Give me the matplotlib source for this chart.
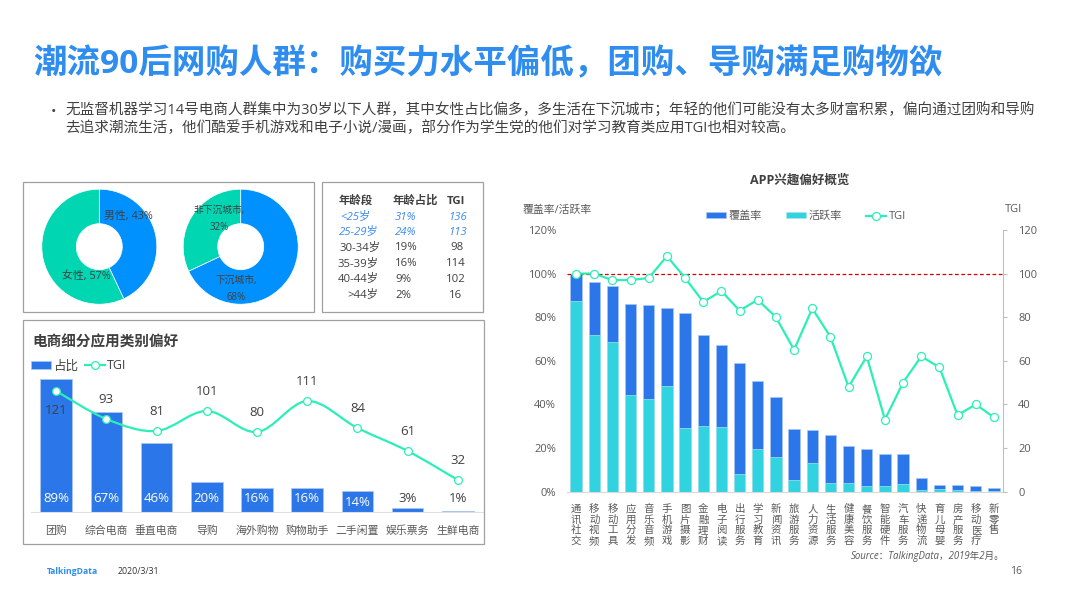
import matplotlib
matplotlib.use("Agg")
import matplotlib.pyplot as plt
from matplotlib.lines import Line2D
from matplotlib.patches import PathPatch, Rectangle
from matplotlib.path import Path

plt.rcParams['font.family'] = ['Open Sans', 'Noto Sans CJK SC', 'DejaVu Sans']

W, H = 1066, 599

# 右图 APP兴趣偏好
apps = ['通讯社交', '移动视频', '移动工具', '应用分发', '音乐音频', '手机游戏', '图片摄影', '金融理财',
        '电子阅读', '出行服务', '学习教育', '新闻资讯', '旅游服务', '人力资源', '生活服务', '健康美容',
        '餐饮服务', '智能硬件', '汽车服务', '快递物流', '育儿母婴', '房产服务', '移动医疗', '新零售']
coverage = [100, 96, 94.5, 86, 85.5, 84, 82, 72, 67, 59, 50.5, 43.5,
            28.5, 28, 26, 21, 19.5, 17, 17, 6, 3, 3, 2.5, 1.5]
active = [87.5, 72, 68.5, 44.5, 42.5, 48.5, 29, 30, 29.5, 8, 19.5, 16,
          5.5, 13, 4, 4, 2.5, 2.5, 3.5, 0.7, 1, 0.5, 0.3, 0.2]
app_tgi = [100, 100, 97, 97, 98, 108, 98, 87, 92, 83, 88, 80,
           65, 84, 71, 48, 62, 33, 50, 62, 57, 35, 40, 34]

# 左下 电商细分
shop_cats = ['团购', '综合电商', '垂直电商', '导购', '海外购物', '购物助手', '二手闲置', '娱乐票务', '生鲜电商']
shop_share = [89, 67, 46, 20, 16, 16, 14, 3, 1]
shop_tgi = [121, 93, 81, 101, 80, 111, 84, 61, 32]

# 饼图
gender_labels = ['男性, 43%', '女性, 57%']
gender_vals = [43, 57]
city_labels = ['下沉城市,\n68%', '非下沉城市,\n32%']
city_vals = [68, 32]

# 表格
table_head = ['年龄段', '年龄占比', 'TGI']
age_rows = ['<25岁', '25-29岁', '30-34岁', '35-39岁', '40-44岁', '>44岁']
age_share = ['31%', '24%', '19%', '16%', '9%', '2%']
age_tgi = ['136', '113', '98', '114', '102', '16']

BLUE = '#2B76E8'
CYAN = '#30D3DF'
GREEN = '#2CEFB7'
GREY = '#595959'
DARK = '#404040'


def fx(x):
    return x / W


def fy(y):
    return 1 - y / H


def px_axes(left, top, right, bottom):
    return fig.add_axes([fx(left), fy(bottom), (right - left) / W, (bottom - top) / H])


def ftext(x, y, s, **kw):
    kw.setdefault('va', 'center')
    kw.setdefault('color', DARK)
    fig.text(fx(x), fy(y), s, **kw)


def box(left, top, right, bottom):
    fig.add_artist(Rectangle((fx(left), fy(bottom)), (right - left) / W, (bottom - top) / H,
                             transform=fig.transFigure, fill=False, ec='#A0A0A0', lw=0.9))


def smooth_path(xs, ys):
    verts = [(xs[0], ys[0])]
    codes = [Path.MOVETO]
    n = len(xs)
    for i in range(n - 1):
        a = max(i - 1, 0)
        d = min(i + 2, n - 1)
        verts.append((xs[i] + (xs[i + 1] - xs[a]) / 6, ys[i] + (ys[i + 1] - ys[a]) / 6))
        verts.append((xs[i + 1] - (xs[d] - xs[i]) / 6, ys[i + 1] - (ys[d] - ys[i]) / 6))
        verts.append((xs[i + 1], ys[i + 1]))
        codes += [Path.CURVE4] * 3
    return Path(verts, codes)


fig = plt.figure(figsize=(W / 100, H / 100), dpi=100, facecolor='white')

# 标题和正文
ftext(33.5, 65, '潮流90后网购人群：购买力水平偏低，团购、导购满足购物欲',
      fontsize=24.1, fontweight='bold', color='#2E8DEE')
ftext(51, 112, '•', fontsize=10.5)
ftext(65, 111, '无监督机器学习14号电商人群集中为30岁以下人群，其中女性占比偏多，多生活在下沉城市；年轻的他们可能没有太多财富积累，偏向通过团购和导购',
      fontsize=10.5)
ftext(65, 129, '去追求潮流生活，他们酷爱手机游戏和电子小说/漫画，部分作为学生党的他们对学习教育类应用TGI也相对较高。',
      fontsize=10.5)

# 三个框
box(23, 182, 314, 312)
box(322, 182, 483, 312)
box(23, 320, 484, 544)

# 环形图
for cx, vals, labels, pos, size in [(99.3, gender_vals, gender_labels, [(128, 216), (86, 277)], 7.8),
                                    (240.7, city_vals, city_labels, [(236, 289), (219, 219)], 7)]:
    ax = px_axes(cx - 57.5, 246.7 - 57.5, cx + 57.5, 246.7 + 57.5)
    ax.pie(vals, startangle=90, counterclock=False, colors=['#0091FF', '#00D6B2'], radius=1,
           wedgeprops={'width': 0.6, 'edgecolor': 'white', 'linewidth': 0.5})
    ax.set_xlim(-1, 1)
    ax.set_ylim(-1, 1)
    for s, (x, y) in zip(labels, pos):
        ftext(x, y, s, ha='center', fontsize=size, linespacing=1.75)

# 年龄表
for x, s in zip([356, 415, 456], table_head):
    ftext(x, 201, s, ha='center', fontsize=8.2, fontweight='bold')
age_left = [340, 339, 340, 338, 338, 347]
tgi_right = [467, 467, 464, 466, 466, 462]
row_y = [217, 232.5, 248, 264, 279.5, 295]
for i in range(len(age_rows)):
    kw = {'fontsize': 8.2}
    if i < 2:
        kw.update(color='#3D8BEF', style='italic')
    ftext(age_left[i], row_y[i], age_rows[i], **kw)
    ftext(395, row_y[i], age_share[i], **kw)
    ftext(tgi_right[i], row_y[i], age_tgi[i], ha='right', **kw)

# 电商细分
ftext(32, 342.5, '电商细分应用类别偏好', fontsize=10.5, fontweight='bold')
ax = px_axes(31, 372, 483, 512)
xs = list(range(len(shop_cats)))
bars = ax.bar(xs, shop_share, width=0.63, color=BLUE, edgecolor='#A9C6F5', linewidth=0.6)
ax.set_xlim(-0.5, 8.5)
ax.set_ylim(0, 93.7)
ax.set_yticks([])
ax.set_xticks(xs)
ax.set_xticklabels(shop_cats, fontsize=7.8, color=GREY)
ax.tick_params(axis='x', length=0, pad=10)
for s in ['top', 'left', 'right']:
    ax.spines[s].set_visible(False)
ax.spines['bottom'].set_color('#E0E0E0')
for i, v in enumerate(shop_share):
    over = v >= 14
    ax.annotate(f'{v}%', (i, 0), xytext=(0, 10 if v != 14 else 7), textcoords='offset points', ha='center', va='center',
                fontsize=9.5, color='white' if over else DARK)

ax2 = ax.twinx()
ax2.set_ylim(0, 140)
ax2.axis('off')
ax2.add_patch(PathPatch(smooth_path(xs, shop_tgi), fill=False, ec=GREEN, lw=1.6))
ax2.plot(xs, shop_tgi, 'o', ms=5.6, mfc='white', mec=GREEN, mew=0.9)
for i, v in enumerate(shop_tgi):
    off = -14 if i == 0 else 14
    ax2.annotate(str(v), (i, v), xytext=(0, off), textcoords='offset points', ha='center', va='center',
                 fontsize=9.5, color=DARK)
ax.legend([bars, Line2D([], [], color=GREEN, lw=1.6, marker='o', ms=5.6, mfc='white', mew=0.9)],
          ['占比', 'TGI'], ncol=2, frameon=False, fontsize=9, loc='center left',
          bbox_to_anchor=(0, 1.043), borderpad=0, borderaxespad=0, columnspacing=0.5,
          handlelength=1.6, handleheight=0.5, handletextpad=0.2, labelcolor=DARK)

# APP兴趣偏好
ax = px_axes(567, 230, 1003, 491.5)
xs = list(range(len(apps)))
b1 = ax.bar(xs, coverage, width=0.62, color=BLUE, edgecolor='#A9C6F5', linewidth=0.5)
b2 = ax.bar(xs, active, width=0.62, color=CYAN, edgecolor='#A9E6EC', linewidth=0.5)
ax.set_xlim(-0.5, 23.5)
ax.set_ylim(0, 120)
ax.set_yticks(range(0, 121, 20))
ax.set_yticklabels([f'{v}%' for v in range(0, 121, 20)], fontsize=8, color=GREY)
ax.tick_params(axis='y', length=0, pad=8)
ax.set_xticks(xs)
ax.set_xticklabels(['\n'.join(a) for a in apps], fontsize=7.5, color=GREY, linespacing=0.95, va='top')
ax.tick_params(axis='x', length=0, pad=9)
for s in ['top', 'left', 'right']:
    ax.spines[s].set_visible(False)
ax.spines['bottom'].set_color('#D9D9D9')

ax2 = ax.twinx()
ax2.set_ylim(0, 120)
ax2.set_yticks(range(0, 121, 20))
ax2.tick_params(axis='y', length=3, color='#BFBFBF', labelsize=8, labelcolor=GREY, pad=8)
for s in ['top', 'left', 'bottom']:
    ax2.spines[s].set_visible(False)
ax2.spines['right'].set_color('#BFBFBF')
ax2.axhline(100, color='#D40000', ls=(0, (3, 2)), lw=0.9)
line, = ax2.plot(xs, app_tgi, color=GREEN, lw=1.6, marker='o', ms=5.8, mfc='white', mec=GREEN, mew=0.9)
ax.legend([b1, b2, line], ['覆盖率', '活跃率', 'TGI'], ncol=3, frameon=False, fontsize=8,
          loc='center', bbox_to_anchor=(0.548, 1.05), borderpad=0, borderaxespad=0, columnspacing=2.1,
          handlelength=1.8, handleheight=0.45, handletextpad=0.3, labelcolor=GREY)

ftext(800, 180, 'APP兴趣偏好概览', ha='center', fontsize=9, fontweight='bold')
ftext(523, 210, '覆盖率/活跃率', fontsize=7.8, color=GREY)
ftext(1005, 210, 'TGI', fontsize=8, color=GREY)
ftext(1005, 556, 'Source：TalkingData，2019年2月。', ha='right', fontsize=6.9, color=GREY, style='italic')

# 页脚
ftext(47, 571, 'TalkingData', fontsize=6.2, fontweight='bold', color='#2E8DEE')
ftext(118, 571, '2020/3/31', fontsize=6.3, color='#333333')
ftext(1016, 571, '16', fontsize=7.5, color=GREY, ha='center')

fig.savefig('out.png', dpi=100)
